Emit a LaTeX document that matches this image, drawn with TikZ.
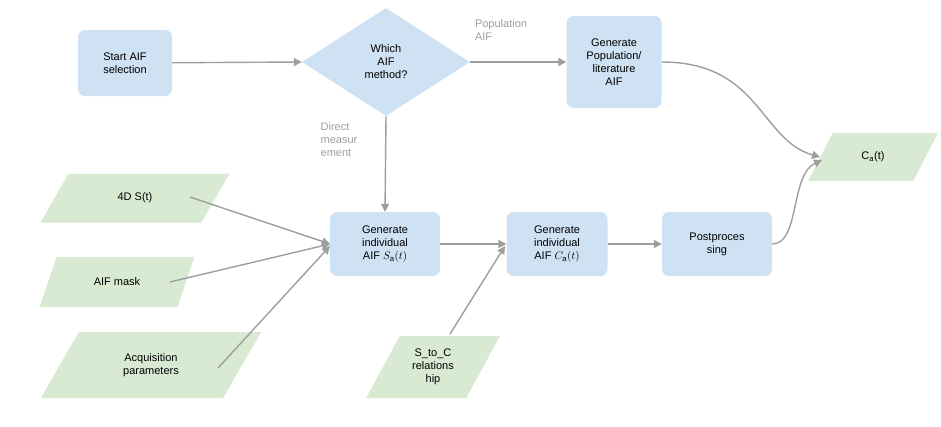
\documentclass[tikz,border=0pt]{standalone}
\usepackage{fontspec}
\setmainfont{Liberation Sans}
\usetikzlibrary{shapes.geometric,arrows.meta}
\definecolor{bl}{HTML}{CFE2F3}
\definecolor{gr}{HTML}{D9EAD3}
\definecolor{ar}{HTML}{9E9E9E}
\begin{document}
\begin{tikzpicture}[x=1pt,y=-1pt,
 box/.style={rectangle,rounded corners=7pt,fill=bl,align=center,font=\fontsize{11}{13}\selectfont,inner sep=2pt},
 data/.style={trapezium,trapezium left angle=60,trapezium right angle=120,fill=gr,align=center,font=\fontsize{11}{13}\selectfont,inner sep=2pt,trapezium stretches=true},
 lab/.style={text=ar,align=left,font=\fontsize{11}{13}\selectfont},
 arr/.style={draw=ar,line width=1.4pt,-{Triangle[length=8pt,width=8pt]}}]
\useasboundingbox (0,0) rectangle (941,426);
\node[box,minimum width=94pt,minimum height=66pt] (start) at (125,63) {Start AIF\\selection};
\node[diamond,fill=bl,minimum width=168pt,minimum height=108pt,aspect=1.55,inner sep=0pt,align=center,font=\fontsize{11}{13}\selectfont] (dia) at (386,62) {};
\node[align=center,font=\fontsize{11}{13}\selectfont] at (386,62) {Which\\AIF\\method?};
\node[box,minimum width=95pt,minimum height=92pt] (pop) at (614,62) {Generate\\Population/\\literature\\AIF};
\node[data,minimum width=130pt,minimum height=48pt] (ca) at (873,157) {C$_{\mathrm{a}}$(t)};
\node[data,minimum width=190pt,minimum height=49pt] (s4d) at (135,198) {4D S(t)};
\node[data,minimum width=155pt,minimum height=50pt] (mask) at (117,282) {AIF mask};
\node[data,minimum width=222pt,minimum height=66pt] (acq) at (151,365) {Acquisition\\parameters};
\node[box,minimum width=110pt,minimum height=64pt] (gs) at (385,244) {Generate\\individual\\AIF $S_{\mathrm{a}}(t)$};
\node[box,minimum width=101pt,minimum height=64pt] (gc) at (557,244) {Generate\\individual\\AIF $C_{\mathrm{a}}(t)$};
\node[box,minimum width=110pt,minimum height=64pt] (post) at (717,244) {Postproces\\sing};
\node[data,minimum width=134pt,minimum height=62pt] (stc) at (433,367) {S\_to\_C\\relations\\hip};
\node[lab] at (501,30) {Population\\AIF};
\node[lab] at (339,140) {Direct\\measur\\ement};
\draw[arr] (start) -- (dia.west);
\draw[arr] (dia.east) -- (pop.west);
\draw[arr] (dia.south) -- (gs.north);
\draw[arr] (190,197) -- (330,244);
\draw[arr] (170,282) -- (330,244);
\draw[arr] (218,368) -- (330,246);
\draw[arr] (gs.east) -- (gc.west);
\draw[arr] (gc.east) -- (post.west);
\draw[arr] (450,334) -- (505,246);
\draw[arr] (pop.east) .. controls (760,62) and (760,140) .. (820,157);
\draw[arr] (post.east) .. controls (800,244) and (790,175) .. (822,160);
\end{tikzpicture}
\end{document}
